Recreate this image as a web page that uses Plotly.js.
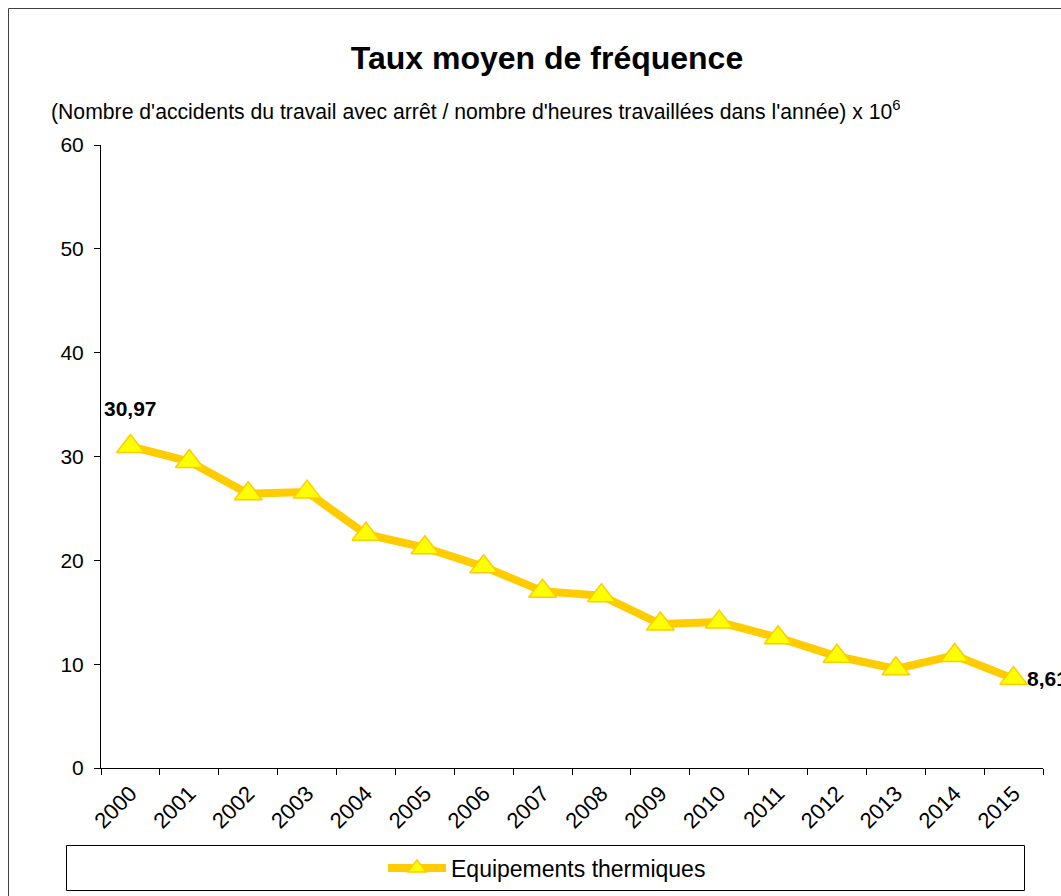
<!DOCTYPE html>
<html>
<head>
<meta charset="utf-8">
<script src="https://cdn.plot.ly/plotly-3.0.1.min.js"></script>
<style>
  html, body { margin: 0; padding: 0; background: #ffffff; }
  #chart { width: 1061px; height: 896px; }
</style>
</head>
<body>
<div id="chart"></div>
<script>
// ---- Data ----
const years = ['2000','2001','2002','2003','2004','2005','2006','2007','2008','2009','2010','2011','2012','2013','2014','2015'];
const tauxFrequence = [30.97, 29.52, 26.41, 26.57, 22.52, 21.22, 19.39, 17.03, 16.60, 13.87, 14.05, 12.55, 10.76, 9.55, 10.84, 8.61];
const seriesName = 'Equipements thermiques';
const chartTitle = 'Taux moyen de fréquence';
const chartSubtitle = "(Nombre d'accidents du travail avec arrêt / nombre d'heures travaillées dans l'année) x 10<sup>6</sup>";
const yTicks = [0, 10, 20, 30, 40, 50, 60];

const FONT = '"Liberation Sans", Arial, Helvetica, sans-serif';
const fmt = v => v.toFixed(2).replace('.', ',');

const first = 0, last = years.length - 1;

const trace = {
  type: 'scatter',
  mode: 'lines+markers',
  name: seriesName,
  x: years,
  y: tauxFrequence,
  line: { color: '#FFCC00', width: 8 },
  marker: { symbol: 'triangle-up', size: 24, color: '#FFFF00', line: { color: '#FFCC00', width: 1.5 } },
  cliponaxis: false,
  hoverinfo: 'x+y'
};

// plot area pixel geometry: left 101, right 1043, top 145, bottom 768
const L = 101, R = 1043, T = 145, B = 768;
const px = v => (v - L) / (R - L);
const py = v => (B - v) / (B - T);

const layout = {
  width: 1061,
  height: 896,
  paper_bgcolor: '#ffffff',
  plot_bgcolor: '#ffffff',
  margin: { l: L, r: 1061 - R, t: T, b: 896 - B, pad: 0 },
  font: { family: FONT, color: '#000000', size: 21 },
  title: {
    text: '<b>' + chartTitle + '</b>',
    font: { family: FONT, size: 32, color: '#000000' },
    xref: 'container', x: 547 / 1061, xanchor: 'center',
    yref: 'container', y: 1 - 58 / 896, yanchor: 'middle'
  },
  showlegend: true,
  legend: {
    orientation: 'h',
    xref: 'container', x: 547 / 1061, xanchor: 'center',
    yref: 'container', y: 1 - 868 / 896, yanchor: 'middle',
    font: { family: FONT, size: 23, color: '#000000' },
    bgcolor: 'rgba(0,0,0,0)',
    itemwidth: 58,
    itemclick: false, itemdoubleclick: false
  },
  xaxis: {
    type: 'category',
    range: [-0.5, years.length - 0.5],
    tickson: 'boundaries',
    ticks: 'outside', ticklen: 6, tickwidth: 1, tickcolor: '#000000',
    showline: true, linecolor: '#000000', linewidth: 1,
    showgrid: false, zeroline: false,
    tickangle: -45,
    tickfont: { family: FONT, size: 22, color: '#000000' },
    ticklabelstandoff: 3,
    fixedrange: true
  },
  yaxis: {
    range: [0, 60],
    tickvals: yTicks,
    ticktext: yTicks.map(String),
    ticks: 'outside', ticklen: 6, tickwidth: 1, tickcolor: '#000000',
    showline: true, linecolor: '#000000', linewidth: 1,
    showgrid: false, zeroline: false,
    tickfont: { family: FONT, size: 21, color: '#000000' },
    ticklabelstandoff: 6,
    fixedrange: true
  },
  annotations: [
    {
      xref: 'paper', yref: 'paper', x: px(49), y: py(110),
      xanchor: 'left', yanchor: 'middle', showarrow: false,
      text: chartSubtitle,
      font: { family: FONT, size: 21.2, color: '#000000' }
    },
    {
      xref: 'x', yref: 'y', x: first, y: tauxFrequence[first],
      xanchor: 'center', yanchor: 'middle', yshift: 38, showarrow: false,
      text: '<b>' + fmt(tauxFrequence[first]) + '</b>',
      font: { family: FONT, size: 21, color: '#000000' }
    },
    {
      xref: 'x', yref: 'y', x: last, y: tauxFrequence[last],
      xanchor: 'left', yanchor: 'middle', xshift: 11, showarrow: false,
      text: '<b>' + fmt(tauxFrequence[last]) + '</b>',
      font: { family: FONT, size: 21, color: '#000000' }
    }
  ],
  shapes: [
    // outer chart border (left and top visible)
    { type: 'rect', xref: 'paper', yref: 'paper', x0: px(8.5), x1: px(1080), y0: py(8.5), y1: py(920),
      line: { color: '#404040', width: 1 }, fillcolor: 'rgba(0,0,0,0)', layer: 'below' },
    // legend box
    { type: 'rect', xref: 'paper', yref: 'paper', x0: px(66.5), x1: px(1024.5), y0: py(845.5), y1: py(890.5),
      line: { color: '#000000', width: 1 }, fillcolor: 'rgba(0,0,0,0)', layer: 'below' }
  ]
};

Plotly.newPlot('chart', [trace], layout, { displayModeBar: false, staticPlot: false, responsive: false });
</script>
</body>
</html>
